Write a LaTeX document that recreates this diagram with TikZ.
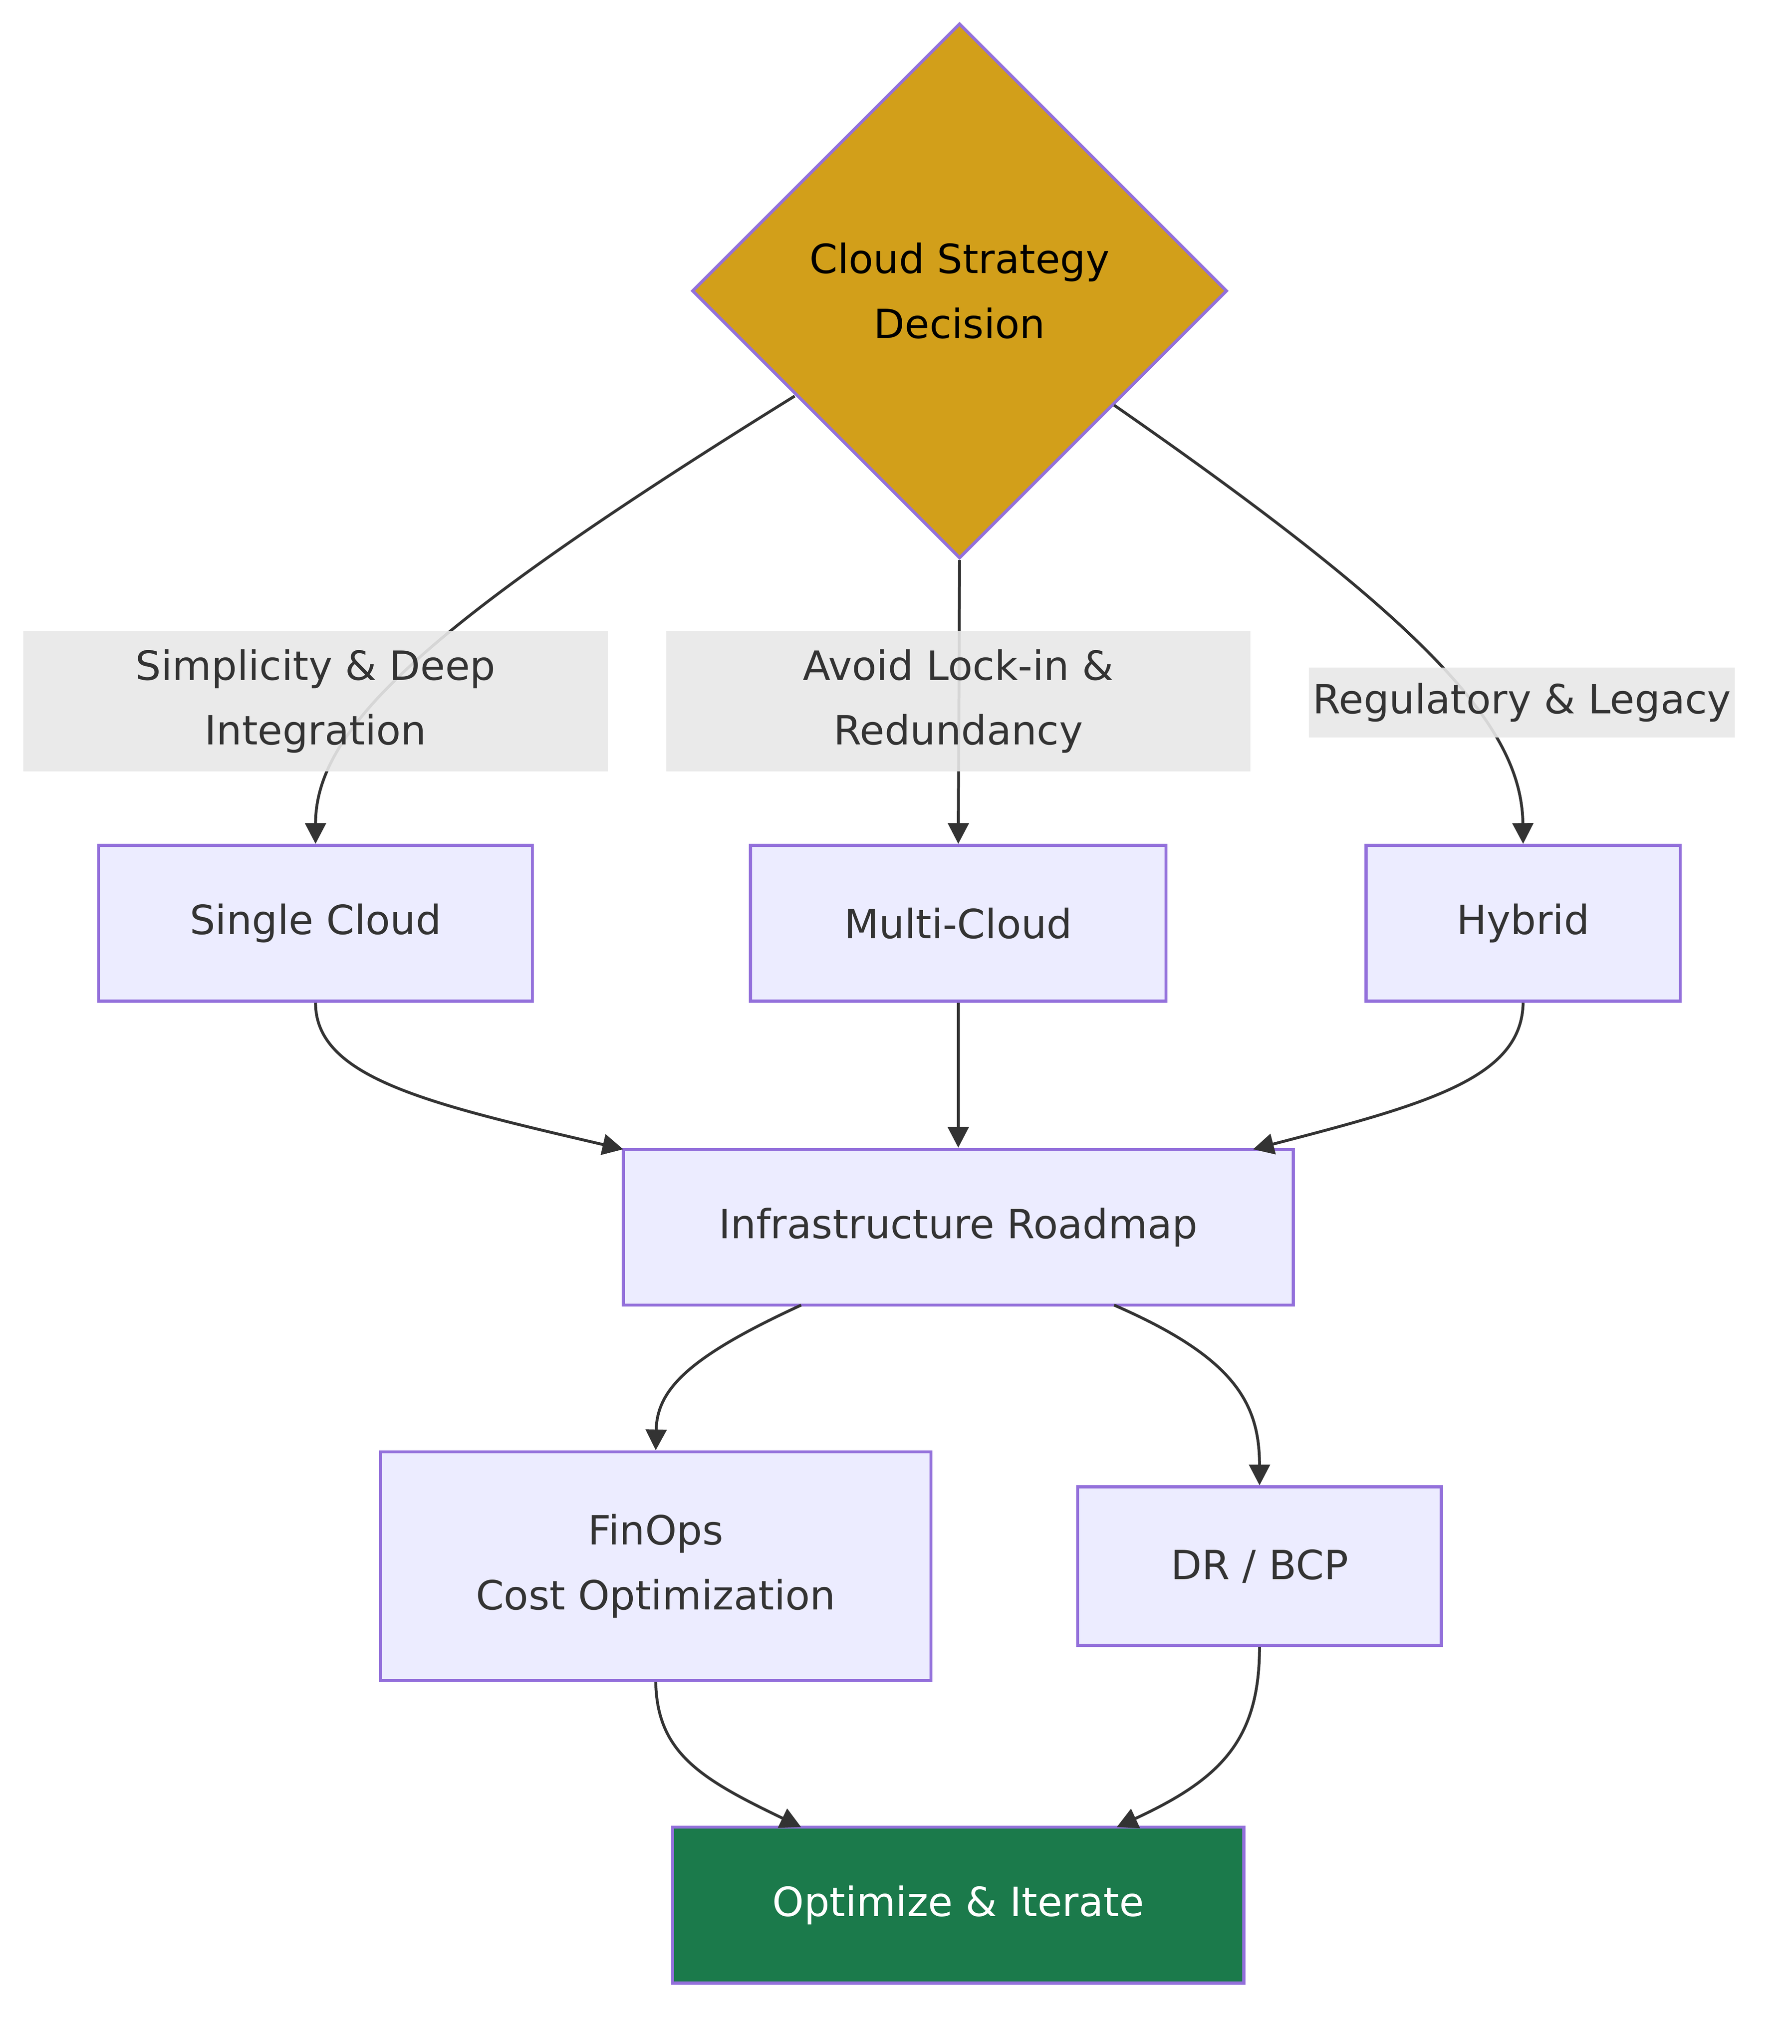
\documentclass[tikz,border=0pt]{standalone}
\usepackage{fontspec}
\setmainfont{DejaVu Sans}
\usetikzlibrary{shapes.geometric,arrows.meta}
\definecolor{nodefill}{HTML}{ECECFF}
\definecolor{nodestroke}{HTML}{9370DB}
\definecolor{gold}{HTML}{D29F1A}
\definecolor{green}{HTML}{1B7A4B}
\definecolor{lblbg}{HTML}{E8E8E8}
\definecolor{txt}{HTML}{333333}
\begin{document}
\begin{tikzpicture}[x=0.5pt,y=-0.5pt,
  box/.style={draw=nodestroke,fill=nodefill,line width=1.2pt,text=txt,font=\fontsize{15.5}{25}\selectfont,align=center,inner sep=0pt},
  lbl/.style={fill=lblbg,fill opacity=0.9,text opacity=1,text=txt,font=\fontsize{15.5}{25}\selectfont,align=center,inner sep=0pt},
  edge/.style={draw=txt,line width=1.1pt,-{Triangle[length=8pt,width=8pt]}}]
\useasboundingbox (0,0) rectangle (1380,1574);
\node[diamond,draw=nodestroke,fill=gold,line width=1.2pt,minimum width=206pt,minimum height=206pt,inner sep=0pt,align=center,font=\fontsize{15.5}{25}\selectfont] (d) at (739,224) {Cloud Strategy\\Decision};
\node[box,minimum width=167pt,minimum height=60pt] (sc) at (243,711) {Single Cloud};
\node[box,minimum width=160pt,minimum height=60pt] (mc) at (738,711) {Multi-Cloud};
\node[box,minimum width=121pt,minimum height=60pt] (hy) at (1173,711) {Hybrid};
\node[box,minimum width=258pt,minimum height=60pt] (ir) at (738,945) {Infrastructure Roadmap};
\node[box,minimum width=212pt,minimum height=88pt] (fo) at (505,1206) {FinOps\\Cost Optimization};
\node[box,minimum width=140pt,minimum height=61pt] (dr) at (970,1206) {DR / BCP};
\node[box,fill=green,text=white,minimum width=220pt,minimum height=60pt] (op) at (738,1467) {Optimize \& Iterate};
\coordinate (dl) at (612,305);
\coordinate (dright) at (858,312);
\coordinate (irl) at (480,885);
\coordinate (irr) at (965,885);
\coordinate (irbl) at (617,1005);
\coordinate (irbr) at (858,1005);
\coordinate (opl) at (617,1407);
\coordinate (opr) at (860,1407);
\draw[edge] (dl) .. controls (330,480) and (243,560) .. (sc.north);
\draw[edge] (d.south) -- (mc.north);
\draw[edge] (dright) .. controls (1100,480) and (1172,560) .. (hy.north);
\draw[edge] (sc.south) .. controls (243,830) and (330,850) .. (irl);
\draw[edge] (mc.south) -- (ir.north);
\draw[edge] (hy.south) .. controls (1172,830) and (1100,850) .. (irr);
\draw[edge] (irbl) .. controls (530,1045) and (506,1070) .. (fo.north);
\draw[edge] (irbr) .. controls (950,1045) and (970,1080) .. (dr.north);
\draw[edge] (fo.south) .. controls (506,1350) and (540,1370) .. (opl);
\draw[edge] (dr.south) .. controls (970,1340) and (940,1370) .. (opr);
\node[lbl,minimum width=225pt,minimum height=54pt] (l1) at (243,540) {Simplicity \& Deep\\Integration};
\node[lbl,minimum width=225pt,minimum height=54pt] (l2) at (738,540) {Avoid Lock-in \&\\Redundancy};
\node[lbl,minimum width=164pt,minimum height=27pt] (l3) at (1172,541) {Regulatory \& Legacy};
\end{tikzpicture}
\end{document}
